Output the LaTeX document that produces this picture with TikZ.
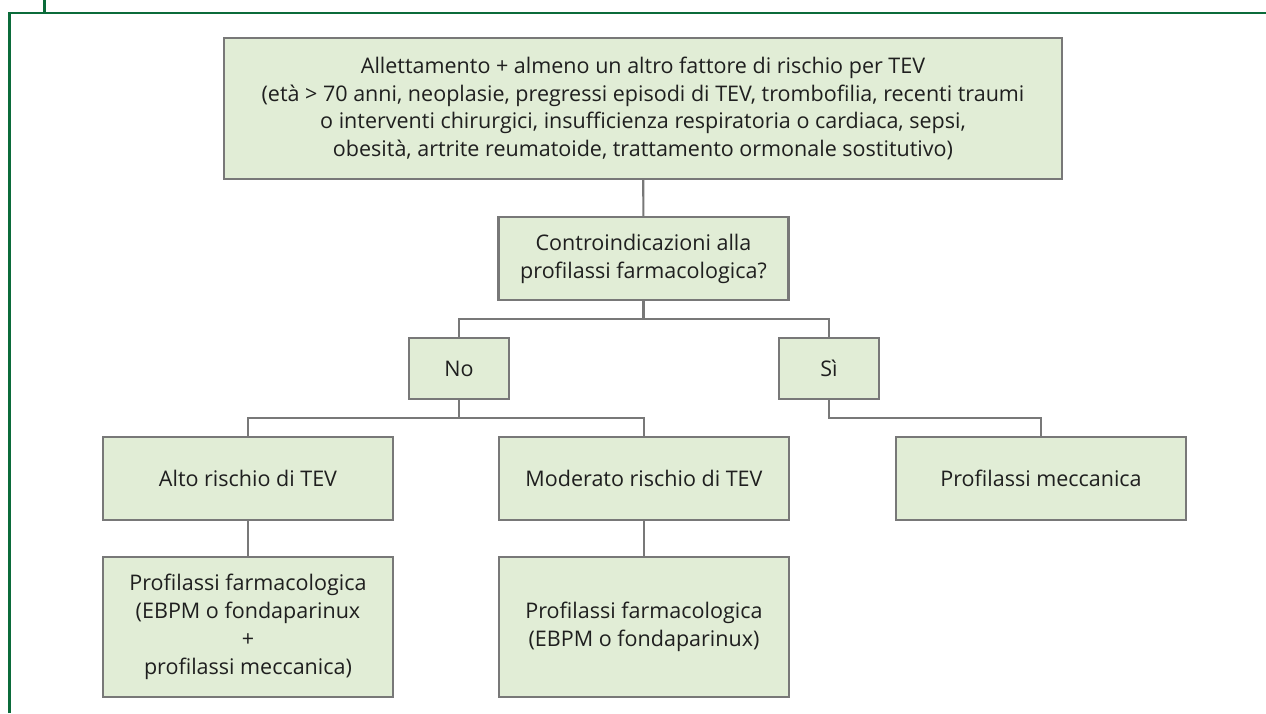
\documentclass[tikz,border=0pt]{standalone}
\usepackage{fontspec}
\setmainfont{Open Sans}
\definecolor{boxfill}{HTML}{E1EDD6}
\definecolor{boxline}{HTML}{787878}
\definecolor{framegreen}{HTML}{0B6B3A}
\begin{document}
\begin{tikzpicture}[x=0.025cm,y=-0.025cm]

\useasboundingbox (0,0) rectangle (1266,713);

\tikzset{frame/.style={line width=1.5pt,color=framegreen}}
\draw[frame] (9.5,713) -- (9.5,13) -- (1266,13);
\draw[frame,line width=2.6pt] (44.5,0) -- (44.5,13);

\tikzset{box/.style={draw=boxline,fill=boxfill,line width=1.6pt,align=center,
  text=black!88,font=\fontsize{15.3}{19.8}\selectfont,inner sep=0pt}}
\tikzset{wide/.style={box,minimum width=7.25cm}}

\node[box,minimum width=20.95cm,minimum height=3.525cm] (risk) at (643,108.5)
  {Allettamento + almeno un altro fattore di rischio per TEV\\
   (età > 70 anni, neoplasie, pregressi episodi di TEV, trombofilia, recenti traumi\\
   o interventi chirurgici, insufficienza respiratoria o cardiaca, sepsi,\\
   obesità, artrite reumatoide, trattamento ormonale sostitutivo)};
\node[wide,minimum height=2.075cm] (ask) at (643.5,258.5)
  {Controindicazioni alla\\profilassi farmacologica?};

\node[box,minimum width=2.5cm,minimum height=1.525cm] (no) at (459,368.5) {No};
\node[box,minimum width=2.5cm,minimum height=1.525cm] (si) at (829,368.5) {Sì};

\node[wide,minimum height=2.075cm] (alto) at (248,478.5) {Alto rischio di TEV};
\node[wide,minimum height=2.075cm] (moder) at (644,478.5) {Moderato rischio di TEV};
\node[wide,minimum height=2.075cm] (mecc) at (1041,478.5) {Profilassi meccanica};

\node[wide,minimum height=3.5cm] (farmA) at (248,627)
  {Profilassi farmacologica\\(EBPM o fondaparinux\\+\\profilassi meccanica)};
\node[wide,minimum height=3.5cm] (farmB) at (644,627)
  {Profilassi farmacologica\\(EBPM o fondaparinux)};

\tikzset{link/.style={draw=boxline,line width=1.5pt}}
\coordinate (split) at (643.5,319);
\coordinate (splitNo) at (459,418);
\coordinate (splitSi) at (829,418);

\draw[link] (risk) -- (ask);
\draw[link] (ask) -- (split) -| (no);
\draw[link] (split) -| (si);
\draw[link] (no) -- (splitNo) -| (alto);
\draw[link] (splitNo) -| (moder);
\draw[link] (si) -- (splitSi) -| (mecc);
\draw[link] (alto) -- (farmA);
\draw[link] (moder) -- (farmB);

\end{tikzpicture}
\end{document}
